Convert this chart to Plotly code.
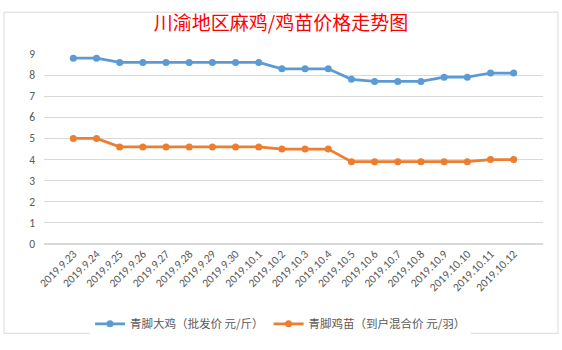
import plotly.graph_objects as go

dates = ["2019.9.23", "2019.9.24", "2019.9.25", "2019.9.26", "2019.9.27", "2019.9.28",
         "2019.9.29", "2019.9.30", "2019.10.1", "2019.10.2", "2019.10.3", "2019.10.4",
         "2019.10.5", "2019.10.6", "2019.10.7", "2019.10.8", "2019.10.9", "2019.10.10",
         "2019.10.11", "2019.10.12"]
big_chicken = [8.8, 8.8, 8.6, 8.6, 8.6, 8.6, 8.6, 8.6, 8.6, 8.3, 8.3, 8.3,
               7.8, 7.7, 7.7, 7.7, 7.9, 7.9, 8.1, 8.1]
chick = [5.0, 5.0, 4.6, 4.6, 4.6, 4.6, 4.6, 4.6, 4.6, 4.5, 4.5, 4.5,
         3.9, 3.9, 3.9, 3.9, 3.9, 3.9, 4.0, 4.0]
series_names = ["青脚大鸡（批发价 元/斤）", "青脚鸡苗（到户混合价 元/羽）"]
y_ticks = [0, 1, 2, 3, 4, 5, 6, 7, 8, 9]

FONT = "Calibri, Carlito, 'Noto Sans CJK SC', sans-serif"

fig = go.Figure()
fig.add_trace(go.Scatter(x=dates, y=big_chicken, name=series_names[0], mode="lines+markers",
                         line=dict(color="#5B9BD5", width=2.75),
                         marker=dict(color="#5B9BD5", size=7)))
fig.add_trace(go.Scatter(x=dates, y=chick, name=series_names[1], mode="lines+markers",
                         line=dict(color="#ED7D31", width=2.75),
                         marker=dict(color="#ED7D31", size=7)))

fig.update_layout(
    width=562, height=350,
    margin=dict(l=44, r=19, t=54, b=102),
    paper_bgcolor="white", plot_bgcolor="white",
    font=dict(family=FONT, color="#595959", size=11),
    title=dict(text="川渝地区麻鸡/鸡苗价格走势图", x=0.5, xanchor="center", y=0.934, yanchor="middle",
               font=dict(family="'Noto Sans CJK SC', sans-serif", size=19, color="#FF0000")),
    xaxis=dict(type="category", tickangle=-45, showgrid=False, showline=False, ticks="",
               tickfont=dict(size=11.5, color="#595959"), fixedrange=True),
    yaxis=dict(range=[0, 9], tickvals=y_ticks, showgrid=True, gridcolor="#D9D9D9", gridwidth=1,
               zeroline=True, zerolinecolor="#D9D9D9", showline=False, ticks="",
               tickfont=dict(size=11.5, color="#595959"), ticklabelstandoff=8),
    legend=dict(orientation="h", x=0.474, xanchor="center", y=-0.42, yanchor="middle",
                font=dict(size=11.5, color="#595959", family="'Noto Sans CJK SC', sans-serif"),
                itemwidth=30),
    showlegend=True,
    shapes=[dict(type="rect", xref="paper", yref="paper", x0=-0.08, x1=1.03, y0=-0.47, y1=1.22,
                 line=dict(color="#D9D9D9", width=1), fillcolor="rgba(0,0,0,0)", layer="below")],
)

fig.write_html("out.html")
